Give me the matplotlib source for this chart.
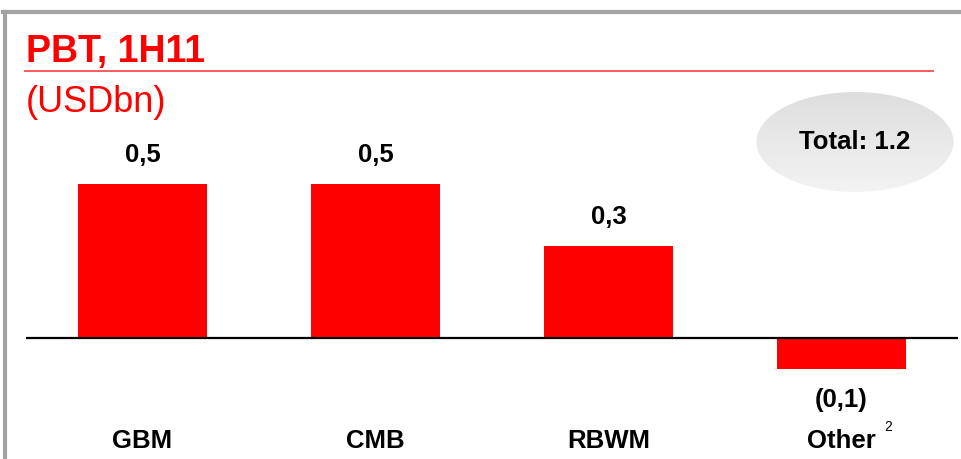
import matplotlib.pyplot as plt
import matplotlib.transforms as mtransforms
from matplotlib.colors import LinearSegmentedColormap
from matplotlib.patches import Ellipse
from matplotlib.lines import Line2D
import numpy as np

plt.rcParams['font.family'] = ['Liberation Sans', 'DejaVu Sans']

W, H = 961, 459
RED = '#ff0000'
LABEL_SIZE = 18.5

segments = ['GBM', 'CMB', 'RBWM', 'Other']
pbt = [0.5, 0.5, 0.3, -0.1]
value_labels = ['0,5', '0,5', '0,3', '(0,1)']
total_label = 'Total: 1.2'

fig = plt.figure(figsize=(W / 100, H / 100), dpi=100)
fig.patch.set_facecolor('white')

# overlay axes in pixel units for frame, title rule and the total bubble
deco = fig.add_axes([0, 0, 1, 1])
deco.axis('off')

deco.add_line(Line2D([5, 5], [12, H], color='#a3a3a3', lw=3.0))
deco.add_line(Line2D([3, W], [12, 12], color='#a3a3a3', lw=3.0))
deco.add_line(Line2D([25, 933], [71, 71], color='#ff5a5a', lw=1.4))

deco.text(26, 62, 'PBT, 1H11', color=RED, fontsize=27, fontweight='bold', va='baseline')
deco.text(26, 112, '(USDbn)', color=RED, fontsize=26, va='baseline')

ell = Ellipse((855, 142), 197, 100, facecolor='none', edgecolor='none')
deco.add_patch(ell)
grad = np.linspace(0, 1, 100).reshape(-1, 1)
cmap = LinearSegmentedColormap.from_list('bubble', ['#dedede', '#f3f3f3'])
img = deco.imshow(grad, cmap=cmap, extent=(756, 954, 192, 92), aspect='auto', zorder=1)
img.set_clip_path(ell)
deco.set_xlim(0, W)
deco.set_ylim(H, 0)
deco.text(855, 142, total_label, fontsize=LABEL_SIZE, fontweight='bold',
          ha='center', va='center', zorder=2)

# bar chart axes
top_px, bot_px = 120, 380
ax = fig.add_axes([26 / W, (H - bot_px) / H, 932 / W, (bot_px - top_px) / H])
ax.set_xlim(-0.5, 3.5)
ax.set_ylim(-(bot_px - 338) / 308, (338 - top_px) / 308)
ax.axis('off')
ax.patch.set_alpha(0)

x = np.arange(len(segments))
ax.bar(x, pbt, width=0.554, color=RED, zorder=2)
ax.axhline(0, color='black', lw=1.6, zorder=3)

for xi, v, lab in zip(x, pbt, value_labels):
    if v >= 0:
        ax.annotate(lab, (xi, v), xytext=(0, 12), textcoords='offset points',
                    ha='center', va='bottom', fontsize=LABEL_SIZE, fontweight='bold')
    else:
        ax.annotate(lab, (xi, v), xytext=(0, -14), textcoords='offset points',
                    ha='center', va='top', fontsize=LABEL_SIZE, fontweight='bold')

trans = mtransforms.blended_transform_factory(ax.transData, fig.transFigure)
for xi, name in zip(x, segments):
    ax.text(xi, (H - 448) / H, name, transform=trans, ha='center', va='baseline',
            fontsize=LABEL_SIZE, fontweight='bold', clip_on=False)
ax.annotate('2', (x[-1], (H - 448) / H), xycoords=trans, xytext=(47, 17),
            textcoords='offset pixels', ha='center', va='baseline', fontsize=10)

fig.savefig('out.png', dpi=100)
